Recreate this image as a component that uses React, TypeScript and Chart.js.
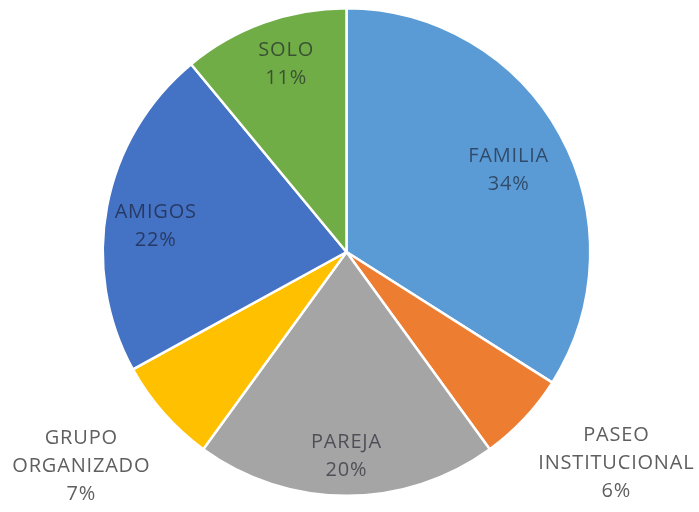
import React, { useEffect, useRef } from "react";
import { Chart, registerables } from "chart.js";

Chart.register(...registerables);

const categories = ["FAMILIA", "PASEO INSTITUCIONAL", "PAREJA", "GRUPO ORGANIZADO", "AMIGOS", "SOLO"];
const labelLines = [["FAMILIA"], ["PASEO", "INSTITUCIONAL"], ["PAREJA"], ["GRUPO", "ORGANIZADO"], ["AMIGOS"], ["SOLO"]];
const values = [34, 6, 20, 7, 22, 11];
const colors = ["#5B9BD5", "#ED7D31", "#A5A5A5", "#FFC000", "#4472C4", "#70AD47"];
// label placement: [radius factor, angle offset in degrees]
const labelPlacement: [number, number][] = [
  [0.745, 2], [1.405, -5.2], [0.84, 0], [1.4, 2.4], [0.79, -3], [0.81, 2],
];

const labelPlugin = {
  id: "sliceLabels",
  afterDatasetsDraw(chart: any) {
    const { ctx } = chart;
    const meta = chart.getDatasetMeta(0);
    const total = values.reduce((a, b) => a + b, 0);
    ctx.save();
    ctx.font = "20px 'Open Sans', sans-serif";
    (ctx as any).letterSpacing = "0.8px";
    ctx.textAlign = "center";
    ctx.textBaseline = "middle";
    meta.data.forEach((arc: any, i: number) => {
      const { x, y, startAngle, endAngle, outerRadius } = arc.getProps(
        ["x", "y", "startAngle", "endAngle", "outerRadius"], true);
      const [f, off] = labelPlacement[i];
      const mid = (startAngle + endAngle) / 2 + (off * Math.PI) / 180;
      const cx = x + Math.cos(mid) * outerRadius * f;
      const cy = y + Math.sin(mid) * outerRadius * f;
      const lines = [...labelLines[i], Math.round((values[i] / total) * 100) + "%"];
      const lh = 28;
      const inside = f < 1;
      ctx.fillStyle = inside ? "rgba(20,20,35,0.6)" : "#5f5f5f";
      lines.forEach((t, k) => {
        ctx.fillText(t, cx, cy + (k - (lines.length - 1) / 2) * lh);
      });
    });
    ctx.restore();
  },
};

export default function App() {
  const ref = useRef<HTMLCanvasElement>(null);
  useEffect(() => {
    if (!ref.current) return;
    const chart = new Chart(ref.current, {
      type: "pie",
      data: {
        labels: categories,
        datasets: [{
          data: values,
          backgroundColor: colors,
          borderColor: "#ffffff",
          borderWidth: 2.5,
        }],
      },
      options: {
        animation: false,
        responsive: false,
        layout: { padding: { top: 7, bottom: 15, left: 0, right: 6 } },
        plugins: { legend: { display: false }, tooltip: { enabled: false } },
      },
      plugins: [labelPlugin],
    });
    return () => chart.destroy();
  }, []);
  return (
    <div style={{ position: "absolute", left: 0, top: 0, width: 699, height: 512, background: "#fff" }}>
      <canvas ref={ref} width={699} height={512} style={{ width: 699, height: 512 }} />
    </div>
  );
}
